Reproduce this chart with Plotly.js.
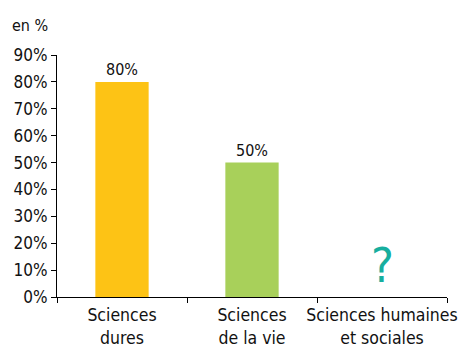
<!DOCTYPE html>
<html>
<head>
<meta charset="utf-8">
<script src="https://cdn.plot.ly/plotly-3.0.1.min.js"></script>
<style>html,body{margin:0;padding:0;background:#fff}#chart{width:460px;height:347px}</style>
</head>
<body>
<div id="chart"></div>
<script>
// Share by field of science
const categories = ["Sciences<br>dures", "Sciences<br>de la vie", "Sciences humaines<br>et sociales"];
const values = [0.8, 0.5, null];
const valueLabels = ["80%", "50%", ""];
const barColors = ["#FDC315", "#A8D05A", "#FFFFFF"];
const yTicks = [0, 0.1, 0.2, 0.3, 0.4, 0.5, 0.6, 0.7, 0.8, 0.9];

const family = "DejaVu Sans Condensed, DejaVu Sans, sans-serif";
const font = {family: family, size: 16, color: "#111"};

const trace = {
  type: "bar",
  x: categories,
  y: values,
  marker: {color: barColors},
  text: valueLabels,
  textposition: "outside",
  textfont: {family: family, size: 16, color: "#111"},
  cliponaxis: false,
  hoverinfo: "skip"
};

const layout = {
  width: 460,
  height: 347,
  margin: {l: 57, r: 13, t: 55, b: 50},
  paper_bgcolor: "#fff",
  plot_bgcolor: "#fff",
  font: font,
  showlegend: false,
  bargap: 0.59,
  xaxis: {
    type: "category",
    showline: true,
    linecolor: "#000",
    linewidth: 1,
    ticks: "outside",
    tickson: "boundaries",
    ticklen: 5,
    tickcolor: "#000",
    tickangle: 0,
    ticklabelstandoff: 2,
    showgrid: false,
    automargin: false,
    tickfont: {family: family, size: 17.5, color: "#111"}
  },
  yaxis: {
    range: [0, 0.9],
    tickvals: yTicks,
    tickformat: ".0%",
    showline: true,
    linecolor: "#000",
    linewidth: 1,
    ticks: "outside",
    ticklen: 5,
    tickcolor: "#000",
    showgrid: false,
    zeroline: false,
    automargin: false,
    tickfont: {family: family, size: 17, color: "#111"}
  },
  annotations: [
    {
      text: "en %",
      xref: "paper", yref: "paper",
      x: -0.12, y: 1.12,
      xanchor: "left", yanchor: "middle",
      showarrow: false,
      font: {family: family, size: 16, color: "#111"}
    },
    {
      text: "?",
      xref: "x", yref: "y",
      x: categories[2], y: 0.12,
      xanchor: "center", yanchor: "middle",
      showarrow: false,
      font: {family: family, size: 48, color: "#17AE9E"}
    }
  ]
};

Plotly.newPlot("chart", [trace], layout, {staticPlot: true, displayModeBar: false});
</script>
</body>
</html>
